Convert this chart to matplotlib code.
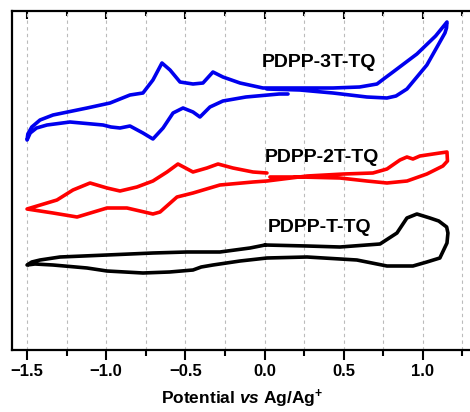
import matplotlib
matplotlib.use("Agg")
import matplotlib.pyplot as plt
from matplotlib.ticker import MultipleLocator

plt.rcParams['font.family'] = ['Liberation Sans', 'DejaVu Sans']
plt.rcParams['font.weight'] = 'bold'
plt.rcParams['mathtext.fontset'] = 'custom'
plt.rcParams['mathtext.rm'] = 'Liberation Sans:bold'
plt.rcParams['mathtext.bf'] = 'Liberation Sans:bold'
plt.rcParams['mathtext.it'] = 'Liberation Sans:italic:bold'
plt.rcParams['mathtext.bfit'] = 'Liberation Sans:italic:bold'

# PDPP-3T-TQ (blue), potential in V, current in a.u. (offset)
e_3t = [0.148, 0.092, -0.118, -0.263, -0.345, -0.408, -0.452, -0.515, -0.578, -0.641,
        -0.705, -0.768, -0.85, -0.913, -0.97, -1.02, -1.229,
        -1.374, -1.44, -1.48, -1.50,
        -1.495, -1.47, -1.418, -1.336, -1.121, -0.976, -0.85, -0.768,
        -0.705, -0.648, -0.597, -0.534, -0.452, -0.389, -0.326, -0.263,
        -0.155, -0.010, 0.20, 0.432, 0.60, 0.71, 0.76, 0.811,
        0.962, 1.08, 1.152, 1.149, 1.139, 1.025, 0.899, 0.83, 0.773, 0.646, 0.432,
        0.223, 0.015]
i_3t = [25.6, 25.6, 25.3, 24.9, 24.3, 23.3, 23.8, 24.2, 23.7, 22.2,
        21.1, 21.7, 22.4, 22.2, 22.3, 22.5, 22.8,
        22.5, 22.2, 21.7, 21.0,
        21.6, 22.3, 23.0, 23.5, 24.2, 24.7, 25.5, 25.7,
        27.0, 28.7, 28.0, 26.8, 26.6, 26.7, 27.8, 27.3,
        26.7, 26.2, 26.2, 26.2, 26.3, 26.6, 27.2, 27.8,
        29.6, 31.4, 32.8, 32.2, 31.7, 28.5, 26.1, 25.4, 25.2, 25.3, 25.7,
        26.0, 26.1]

# PDPP-2T-TQ (red)
e_2t = [0.015, -0.073, -0.20, -0.294, -0.364, -0.452, -0.547, -0.616, -0.705,
        -0.806, -0.913, -0.995, -1.102, -1.21, -1.311, -1.50,
        -1.336, -1.184, -0.995, -0.869, -0.705, -0.66, -0.553, -0.452, -0.282,
        -0.073, 0.015, 0.268, 0.50, 0.684,
        0.773, 0.855, 0.899, 0.937, 0.981, 1.107, 1.152, 1.155, 1.126, 1.025,
        0.90, 0.773, 0.646, 0.476, 0.223, 0.034]
i_2t = [17.7, 17.8, 18.2, 18.6, 18.2, 17.8, 18.6, 17.8, 16.9,
        16.3, 15.9, 16.2, 16.7, 16.0, 15.0, 14.1,
        13.7, 13.3, 14.2, 14.2, 13.6, 13.8, 15.3, 15.7, 16.5,
        16.8, 16.9, 17.4, 17.6, 17.7,
        18.1, 19.0, 19.3, 19.1, 19.4, 19.7, 19.8, 18.9, 18.4, 17.6,
        16.9, 16.7, 16.9, 17.2, 17.3, 17.3]

# PDPP-T-TQ (black)
e_t = [0.003, -0.092, -0.282, -0.49, -0.705, -0.995, -1.292, -1.418, -1.47, -1.50,
       -1.45, -1.336, -1.121, -0.995, -0.768, -0.60, -0.452, -0.40, -0.326, -0.155,
       0.015, 0.268, 0.583, 0.773, 0.937, 1.025, 1.107, 1.152, 1.158, 1.150,
       1.10, 1.044, 0.962, 0.899, 0.836, 0.729, 0.476, 0.268, 0.003]
i_t = [10.5, 10.2, 9.8, 9.8, 9.7, 9.5, 9.3, 9.0, 8.8, 8.5,
       8.6, 8.5, 8.2, 7.9, 7.7, 7.8, 8.0, 8.3, 8.5, 8.9,
       9.2, 9.3, 9.0, 8.4, 8.4, 8.8, 9.2, 10.7, 11.7, 12.3,
       12.9, 13.2, 13.6, 13.2, 11.7, 10.6, 10.3, 10.4, 10.5]

labels = ['PDPP-3T-TQ', 'PDPP-2T-TQ', 'PDPP-T-TQ']
label_pos = [(-0.02, 28.8), (0.0, 19.3), (0.02, 12.3)]

fig = plt.figure(figsize=(4.7, 4.12), dpi=100)
ax = fig.add_axes([12 / 470, 62 / 412, 460 / 470, 339 / 412])

style = dict(lw=2.6, solid_joinstyle='round', solid_capstyle='round')
ax.plot(e_3t, i_3t, color='#0000ee', **style)
ax.plot(e_2t, i_2t, color='#ff0000', **style)
ax.plot(e_t, i_t, color='black', **style)

for txt, (x, y) in zip(labels, label_pos):
    ax.text(x, y, txt, fontsize=14, fontweight='bold', ha='left', va='center')

ax.set_xlim(-1.595, 1.31)
ax.set_ylim(0, 33.9)
ax.xaxis.set_major_locator(MultipleLocator(0.5))
ax.xaxis.set_minor_locator(MultipleLocator(0.25))
ax.set_yticks([])
ax.grid(True, which='both', axis='x', color='#bbbbbb', linestyle=(0, (3, 3)), lw=0.8)
ax.set_axisbelow(True)

ax.tick_params(axis='x', which='major', direction='out', length=7, width=1.5,
               labelsize=12, pad=3)
ax.tick_params(axis='x', which='minor', direction='out', length=4, width=1.5)
sec = ax.secondary_xaxis('top')
sec.xaxis.set_major_locator(MultipleLocator(0.5))
sec.xaxis.set_minor_locator(MultipleLocator(0.25))
sec.tick_params(axis='x', which='major', direction='in', length=6, width=1.5, labeltop=False)
sec.tick_params(axis='x', which='minor', direction='in', length=3.5, width=1.5)
sec.spines['top'].set_visible(False)
for lab in ax.get_xticklabels():
    lab.set_fontweight('bold')
for s in ax.spines.values():
    s.set_linewidth(1.6)

ax.set_xlabel(r'Potential $\mathbfit{vs}$ Ag/Ag$^{+}$', fontsize=12.5, fontweight='bold', labelpad=6)

fig.savefig('out.png', dpi=100)
